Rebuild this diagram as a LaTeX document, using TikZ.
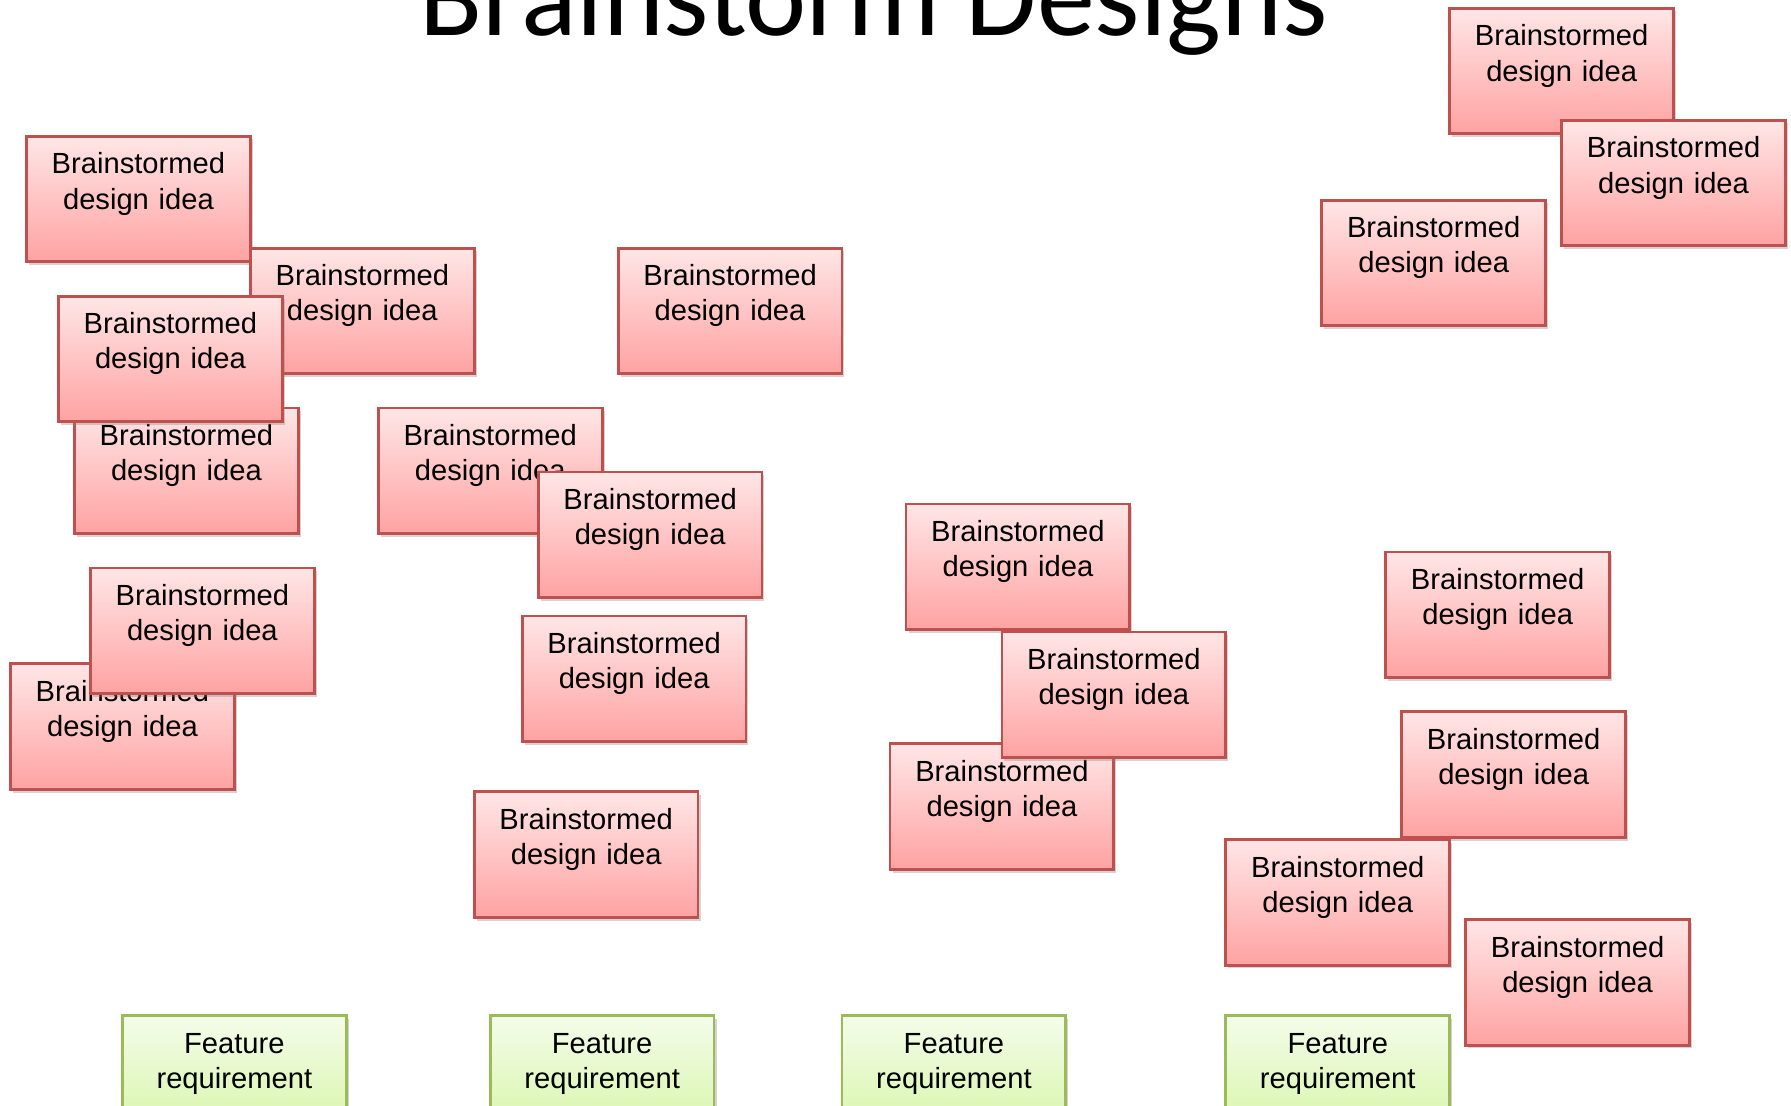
\documentclass[tikz,border=0pt]{standalone}
\usepackage{fontspec}
\setmainfont{Liberation Sans}
\newfontfamily\titlefont{Carlito}
\usetikzlibrary{shadows}
\definecolor{ideatop}{HTML}{FFE6E6}
\definecolor{ideabot}{HTML}{FFA2A2}
\definecolor{ideaedge}{HTML}{C0504D}
\definecolor{feattop}{HTML}{F4FCEA}
\definecolor{featbot}{HTML}{D6F5A4}
\definecolor{featedge}{HTML}{9BBB59}
\tikzset{
  card/.style={anchor=north west, draw, line width=0.8pt, align=center,
               text width=2.1cm, inner xsep=0pt, inner ysep=0pt,
               minimum width=2.239cm, text height=0.377cm, text depth=0.879cm,
               font=\fontsize{8.3}{10}\selectfont,
               drop shadow={shadow xshift=0.7pt, shadow yshift=-0.9pt, opacity=0.35}},
  idea/.style={card, draw=ideaedge, top color=ideatop, bottom color=ideabot},
  feat/.style={card, draw=featedge, top color=feattop, bottom color=featbot}
}

\begin{document}
\begin{tikzpicture}[x=0.011422cm, y=-0.011422cm]
  \useasboundingbox (0,0) rectangle (1568,968);
  \clip (0,0) rectangle (1568,968);
  \node[anchor=base, font=\titlefont\fontsize{33}{40}\selectfont] (title) at (765,31) {Brainstorm Designs};
  % left cluster
  \node[idea] (i1) at (22,118) {Brainstormed\\design idea};
  \node[idea] (i2) at (218,216) {Brainstormed\\design idea};
  \node[idea] (i4) at (64,356) {Brainstormed\\design idea};
  \node[idea] (i3) at (50,258) {Brainstormed\\design idea};
  \node[idea] (i5) at (330,356) {Brainstormed\\design idea};
  \node[idea] (i7) at (470,412) {Brainstormed\\design idea};
  \node[idea] (i6) at (540,216) {Brainstormed\\design idea};
  \node[idea] (i9) at (8,580) {Brainstormed\\design idea};
  \node[idea] (i8) at (78,496) {Brainstormed\\design idea};
  \node[idea] (i10) at (456,538) {Brainstormed\\design idea};
  \node[idea] (i11) at (414,692) {Brainstormed\\design idea};
  % middle cluster
  \node[idea] (i12) at (792,440) {Brainstormed\\design idea};
  \node[idea] (i14) at (778,650) {Brainstormed\\design idea};
  \node[idea] (i13) at (876,552) {Brainstormed\\design idea};
  % right side
  \node[idea] (i15) at (1268,6) {Brainstormed\\design idea};
  \node[idea] (i16) at (1366,104) {Brainstormed\\design idea};
  \node[idea] (i17) at (1156,174) {Brainstormed\\design idea};
  \node[idea] (i18) at (1212,482) {Brainstormed\\design idea};
  \node[idea] (i19) at (1226,622) {Brainstormed\\design idea};
  \node[idea] (i20) at (1072,734) {Brainstormed\\design idea};
  \node[idea] (i21) at (1282,804) {Brainstormed\\design idea};
  % requirements along the bottom
  \node[feat] (f1) at (106,888) {Feature\\requirement};
  \node[feat] (f2) at (428,888) {Feature\\requirement};
  \node[feat] (f3) at (736,888) {Feature\\requirement};
  \node[feat] (f4) at (1072,888) {Feature\\requirement};
\end{tikzpicture}
\end{document}
